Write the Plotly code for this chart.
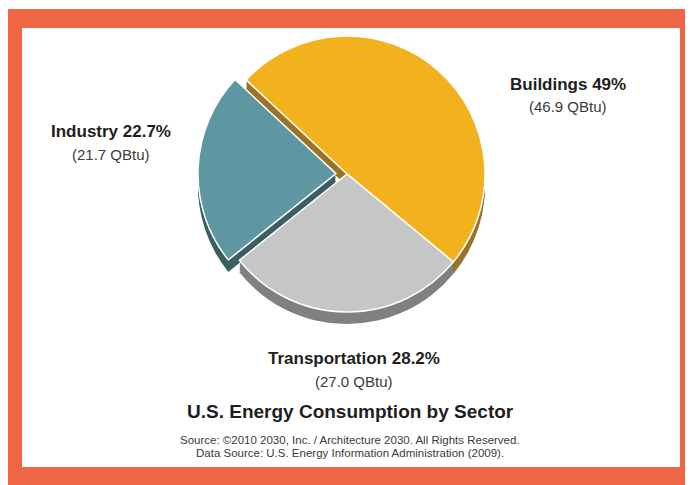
import plotly.graph_objects as go

# ---- data ----
sectors = ["Buildings", "Transportation", "Industry"]
qbtu = [46.9, 27.0, 21.7]
pct_labels = ["49%", "28.2%", "22.7%"]
top_colors = ["#F2B21E", "#C6C6C6", "#5E97A1"]
side_colors = ["#9B7427", "#808080", "#3B5F63"]
pulls = [0, 0, 0.08]

title_text = "U.S. Energy Consumption by Sector"
source_lines = [
    "Source: \u00a92010 2030, Inc. / Architecture 2030. All Rights Reserved.",
    "Data Source: U.S. Energy Information Administration (2009).",
]

# page has an 8px body margin: work in page pixels, convert to figure fractions
OFF = 8
PAGE_W, PAGE_H = 693, 485
W, H = PAGE_W - OFF, PAGE_H - OFF


def px_x(x):
    return (x - OFF) / W


def px_y(y):
    return 1 - (y - OFF) / H


fig = go.Figure()

# pie geometry (page pixels)
cx, cy, r = 347, 174, 138
D = 2 * r * (1 + max(pulls))
depth = 12
rot = -47


def dom(offset):
    return dict(x=[px_x(cx - D / 2), px_x(cx + D / 2)],
                y=[px_y(cy + offset + D / 2), px_y(cy + offset - D / 2)])


for off in range(depth, 0, -2):
    fig.add_trace(go.Pie(
        labels=sectors, values=qbtu, sort=False, direction="clockwise",
        rotation=rot, pull=pulls, domain=dom(off),
        marker=dict(colors=side_colors, line=dict(width=0)),
        textinfo="none", hoverinfo="skip", showlegend=False))

fig.add_trace(go.Pie(
    labels=sectors, values=qbtu, sort=False, direction="clockwise",
    rotation=rot, pull=pulls, domain=dom(0),
    marker=dict(colors=top_colors, line=dict(color="white", width=1.5)),
    textinfo="none", hoverinfo="label+value+percent", showlegend=False))

# frame
shapes = [
    dict(type="rect", xref="paper", yref="paper", layer="below",
         x0=px_x(5), x1=px_x(693), y0=px_y(485), y1=px_y(9),
         fillcolor="#EF6645", line=dict(width=0)),
    dict(type="rect", xref="paper", yref="paper", layer="below",
         x0=px_x(22), x1=px_x(680), y0=px_y(467), y1=px_y(28),
         fillcolor="white", line=dict(width=0)),
]

label_pos = {  # (x, y bold line, y sub line) in page pixels
    "Buildings": (568, 84, 106),
    "Transportation": (354, 358, 381),
    "Industry": (111, 132, 155),
}

bold_font = "Liberation Sans, Arial, sans-serif"
reg_font = "Liberation Sans, Arial, sans-serif"

annotations = []
for name, p, v in zip(sectors, pct_labels, qbtu):
    x, yb, ys = label_pos[name]
    annotations.append(dict(
        x=px_x(x), y=px_y(yb), xref="paper", yref="paper", showarrow=False,
        text=f"<b>{name} {p}</b>", font=dict(family=bold_font, size=17, color="#1e1e1e"),
        xanchor="center", yanchor="middle"))
    annotations.append(dict(
        x=px_x(x), y=px_y(ys), xref="paper", yref="paper", showarrow=False,
        text=f"({v:.1f} QBtu)", font=dict(family=reg_font, size=15, color="#3a3a3a"),
        xanchor="center", yanchor="middle"))

annotations.append(dict(
    x=px_x(350), y=px_y(411), xref="paper", yref="paper", showarrow=False,
    text=f"<b>{title_text}</b>", font=dict(family=reg_font, size=19, color="#1e1e1e"),
    xanchor="center", yanchor="middle"))
for i, line in enumerate(source_lines):
    annotations.append(dict(
        x=px_x(350), y=px_y(440 + 13 * i), xref="paper", yref="paper", showarrow=False,
        text=line, font=dict(family=reg_font, size=11.5, color="#3a3a3a"),
        xanchor="center", yanchor="middle"))

fig.update_layout(
    width=W, height=H, margin=dict(l=0, r=0, t=0, b=0),
    paper_bgcolor="white", plot_bgcolor="white",
    shapes=shapes, annotations=annotations, showlegend=False)

fig.write_html("out.html")
